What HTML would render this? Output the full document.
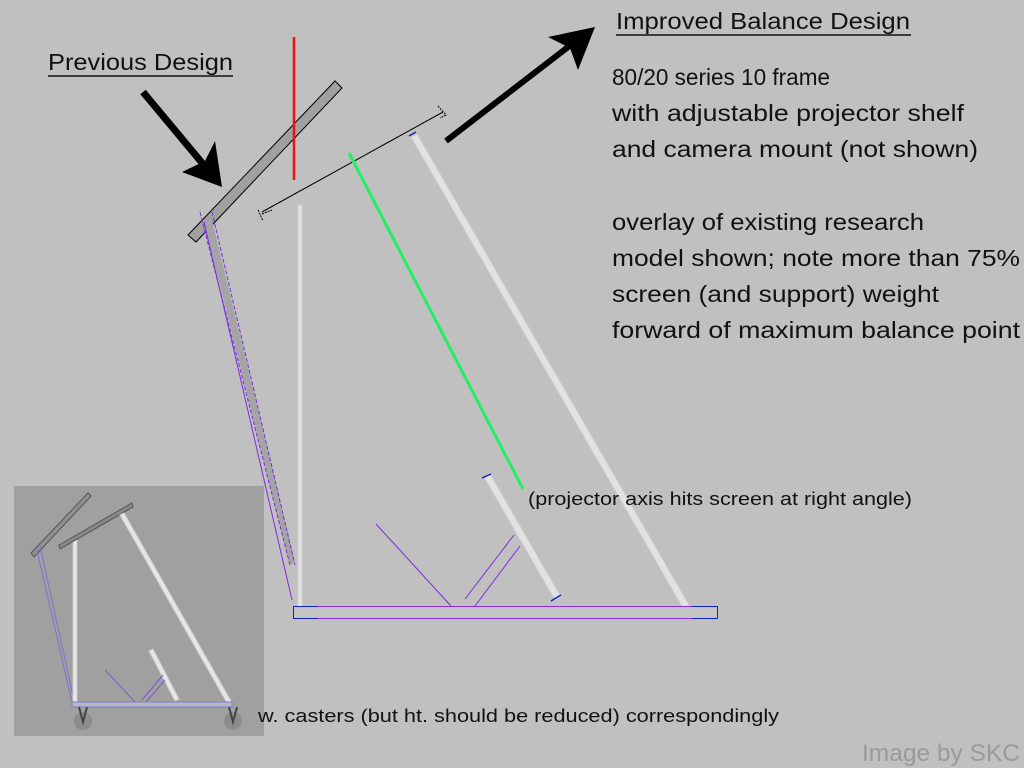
<!DOCTYPE html>
<html><head><meta charset="utf-8"><style>
html,body{margin:0;padding:0;background:#c0c0c0;width:1024px;height:768px;overflow:hidden}
svg{display:block}
text{font-family:"Liberation Sans",sans-serif;fill:#111}
</style></head><body>
<svg width="1024" height="768" viewBox="0 0 1024 768">
<rect width="1024" height="768" fill="#c0c0c0"/>
<!-- inset -->
<rect x="14" y="486" width="250" height="250" fill="#a0a0a0"/>
<g stroke-width="1">
<polygon points="31,553 88,493 91,496 34,557" fill="#909090" stroke="#555"/>
<line x1="36" y1="546" x2="72" y2="702" stroke="#8a6acc"/>
<line x1="40" y1="546" x2="74" y2="700" stroke="#8a6acc"/>
<rect x="73" y="540" width="4" height="162" fill="#e8e8e8" stroke="#ccc"/>
<polygon points="59,545 132,503 133,507 60,549" fill="#888" stroke="#555"/>
<polygon points="120,515 124,513 231,701 227,703" fill="#e6e6e6" stroke="#ccc"/>
<polygon points="149,651 153,649 179,699 175,701" fill="#e6e6e6" stroke="#ccc"/>
<line x1="105" y1="670" x2="135" y2="702" stroke="#7a5acc"/>
<line x1="142" y1="700" x2="163" y2="675" stroke="#7a5acc"/>
<line x1="146" y1="702" x2="165" y2="680" stroke="#7a5acc"/>
<rect x="72" y="702" width="160" height="5" fill="#b8b8b8" stroke="#7a7ae0"/>
<circle cx="83" cy="721" r="9" fill="#8c8c8c"/>
<circle cx="233" cy="721" r="9" fill="#8c8c8c"/>
<path d="M79,707 L83,722 L87,707" fill="none" stroke="#444" stroke-width="2"/>
<path d="M229,707 L233,722 L237,707" fill="none" stroke="#444" stroke-width="2"/>
</g>
<!-- previous design bar -->
<polygon points="188,235 335,81 342,88 196,242" fill="#a0a0a0" stroke="#000" stroke-width="1"/>
<!-- leg -->
<polygon points="204,222 212,220 295,562 290,565" fill="#a4a4a4"/>
<line x1="200" y1="212" x2="290" y2="565" stroke="#7a2de0" stroke-width="1" stroke-dasharray="4,2"/>
<line x1="212" y1="212" x2="295" y2="565" stroke="#7a2de0" stroke-width="1" stroke-dasharray="4,2"/>
<line x1="204" y1="222" x2="292" y2="600" stroke="#7a2de0" stroke-width="1"/>
<!-- red -->
<line x1="294" y1="37" x2="294" y2="180" stroke="#ee1111" stroke-width="2.5"/>
<!-- white post -->
<rect x="298" y="205" width="4" height="402" fill="#e4e4e4" stroke="#d0d0d0" stroke-width="1"/>
<!-- top bar -->
<line x1="262" y1="212" x2="443" y2="112" stroke="#000" stroke-width="1"/>
<path d="M258,210 L263,221 M262,214 L272,210 M438,106 L446,115 L440,118" fill="none" stroke="#000" stroke-width="1" stroke-dasharray="2,1"/>
<!-- green -->
<line x1="349" y1="153" x2="523" y2="489" stroke="#22ee66" stroke-width="3"/>
<!-- long diagonal -->
<polygon points="411,137 417,134 689,605 683,608" fill="#e2e2e2" stroke="#cfcfcf" stroke-width="1"/>
<line x1="409" y1="136" x2="416" y2="132" stroke="#1122cc" stroke-width="1.5"/>
<!-- short -->
<polygon points="484,477 490,474 561,597 555,600" fill="#e2e2e2" stroke="#cfcfcf" stroke-width="1"/>
<line x1="482" y1="478" x2="491" y2="474" stroke="#1122cc" stroke-width="1.5"/>
<line x1="551" y1="601" x2="561" y2="595" stroke="#1122cc" stroke-width="1.5"/>
<!-- purple braces -->
<line x1="376" y1="524" x2="451" y2="606" stroke="#7a2de0" stroke-width="1"/>
<line x1="465" y1="599" x2="514" y2="535" stroke="#7a2de0" stroke-width="1"/>
<line x1="475" y1="606" x2="520" y2="546" stroke="#7a2de0" stroke-width="1"/>
<!-- base -->
<rect x="293.5" y="606.5" width="424" height="12" fill="#c4c4c4" stroke="#1122cc" stroke-width="1"/>
<line x1="318" y1="606.5" x2="692" y2="606.5" stroke="#8a2de0" stroke-width="1"/>
<line x1="318" y1="618.5" x2="692" y2="618.5" stroke="#8a2de0" stroke-width="1"/>
<!-- arrows -->
<line x1="143" y1="92" x2="208" y2="170" stroke="#000" stroke-width="7"/>
<polygon points="222,187 182,172 205,161 215,141" fill="#000"/>
<line x1="446" y1="141" x2="572" y2="44" stroke="#000" stroke-width="6"/>
<polygon points="595,27 548,37 570,48 578,70" fill="#000"/>
<!-- texts -->
<text x="48" y="70" font-size="23" textLength="185" lengthAdjust="spacingAndGlyphs">Previous Design</text>
<line x1="48" y1="76" x2="233" y2="76" stroke="#111" stroke-width="1.5"/>
<text x="616" y="29" font-size="23" textLength="294" lengthAdjust="spacingAndGlyphs">Improved Balance Design</text>
<line x1="616" y1="35" x2="911" y2="35" stroke="#111" stroke-width="1.5"/>
<g font-size="23">
<text x="612" y="85" textLength="218" lengthAdjust="spacingAndGlyphs">80/20 series 10 frame</text>
<text x="612" y="121" textLength="352" lengthAdjust="spacingAndGlyphs">with adjustable projector shelf</text>
<text x="612" y="157" textLength="366" lengthAdjust="spacingAndGlyphs">and camera mount (not shown)</text>
<text x="612" y="230" textLength="312" lengthAdjust="spacingAndGlyphs">overlay of existing research</text>
<text x="612" y="266" textLength="408" lengthAdjust="spacingAndGlyphs">model shown; note more than 75%</text>
<text x="612" y="302" textLength="327" lengthAdjust="spacingAndGlyphs">screen (and support) weight</text>
<text x="612" y="338" textLength="408" lengthAdjust="spacingAndGlyphs">forward of maximum balance point</text>
</g>
<text x="528" y="505" font-size="18" textLength="384" lengthAdjust="spacingAndGlyphs">(projector axis hits screen at right angle)</text>
<text x="258" y="722" font-size="18" textLength="521" lengthAdjust="spacingAndGlyphs">w. casters (but ht. should be reduced) correspondingly</text>
<text x="862" y="761" font-size="24" style="fill:#9a9a9a" textLength="158" lengthAdjust="spacingAndGlyphs">Image by SKC</text>
</svg>
</body></html>
